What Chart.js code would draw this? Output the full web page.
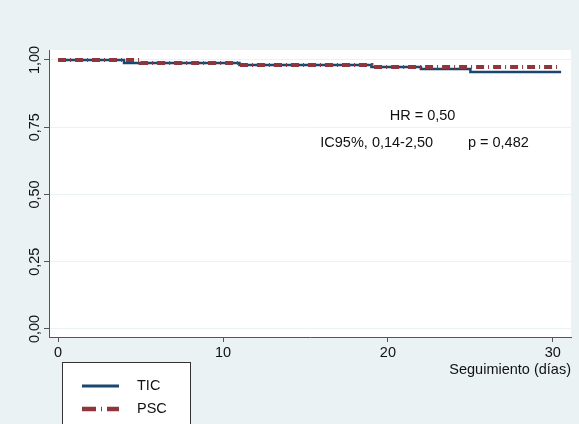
<!DOCTYPE html>
<html>
<head>
<meta charset="utf-8">
<script src="https://cdn.jsdelivr.net/npm/chart.js@4.4.0/dist/chart.umd.min.js"></script>
<style>
    html, body { margin: 0; padding: 0; background: #eaf2f3; }
    #wrap { width: 579px; height: 424px; }
</style>
</head>
<body>
<div id="wrap"><canvas id="myChart" width="579" height="424"></canvas></div>
<script>
// Kaplan-Meier steps
var ticDays = [0, 4, 11, 19, 22, 25, 30.5];
var ticSurv = [1.000, 0.989, 0.981, 0.974, 0.966, 0.955, 0.955];
var pscDays = [0, 5, 11, 19, 30.5];
var pscSurv = [1.000, 0.989, 0.981, 0.974, 0.974];

var xTicks = [0, 10, 20, 30];
var yTicks = [0, 0.25, 0.5, 0.75, 1];
var groups = ["TIC", "PSC"];
var notes = ["HR = 0,50", "IC95%, 0,14-2,50", "p = 0,482"];

var blue = "#1a476f";
var red = "#90353b";
var bg = "#eaf2f3";
var fontFam = "'Liberation Sans', Arial, Helvetica, sans-serif";

Chart.defaults.font.family = fontFam;
Chart.defaults.font.size = 14.5;
Chart.defaults.color = "#111";

function points(xs, ys) {
    var out = [];
    for (var i = 0; i < xs.length; i++) {
        out.push({x: xs[i], y: ys[i]});
    }
    return out;
}

function comma(v, d) {
    return v.toFixed(d).replace(".", ",");
}

var stataPlugin = {
    id: "stata",
    beforeDraw: function (chart) {
        var ctx = chart.ctx, a = chart.chartArea;
        ctx.save();
        ctx.fillStyle = bg;
        ctx.fillRect(0, 0, chart.width, chart.height);
        ctx.fillStyle = "#fff";
        ctx.fillRect(a.left, a.top, a.right - a.left, a.bottom - a.top);
        ctx.restore();
    },
    afterDraw: function (chart) {
        var ctx = chart.ctx;
        var xs = chart.scales.x, ys = chart.scales.y;
        ctx.save();
        ctx.fillStyle = "#111";
        ctx.font = "14.5px " + fontFam;

        // vertical y tick labels
        ctx.textAlign = "center";
        ctx.textBaseline = "alphabetic";
        yTicks.forEach(function (v) {
            ctx.save();
            ctx.translate(38.5, ys.getPixelForValue(v));
            ctx.rotate(-Math.PI / 2);
            ctx.fillText(comma(v, 2), 0, 0);
            ctx.restore();
        });

        // HR / CI / p notes
        ctx.textBaseline = "middle";
        ctx.textAlign = "center";
        ctx.fillText(notes[0], xs.getPixelForValue(22.1), ys.getPixelForValue(0.79));
        ctx.textAlign = "left";
        ctx.fillText(notes[1], xs.getPixelForValue(15.9), ys.getPixelForValue(0.69));
        ctx.fillText(notes[2], xs.getPixelForValue(24.85), ys.getPixelForValue(0.69));

        // legend box
        ctx.fillStyle = "#fff";
        ctx.fillRect(62, 362, 128, 80);
        ctx.strokeStyle = "#333";
        ctx.lineWidth = 1;
        ctx.strokeRect(62.5, 362.5, 128, 80);

        var rows = [386, 409];
        var ds = chart.data.datasets;
        for (var i = 0; i < groups.length; i++) {
            var d = ds.find(function (s) { return s.label === groups[i]; });
            ctx.beginPath();
            ctx.strokeStyle = d.borderColor;
            ctx.lineWidth = d.borderWidth + 0.5;
            ctx.setLineDash(d.label === "PSC" ? [14, 5, 1, 5] : []);
            ctx.moveTo(82, rows[i]);
            ctx.lineTo(119, rows[i]);
            ctx.stroke();
            ctx.setLineDash([]);
            ctx.fillStyle = "#111";
            ctx.fillText(groups[i], 137, rows[i]);
        }
        ctx.restore();
    }
};

new Chart(document.getElementById("myChart"), {
    type: "line",
    data: {
        datasets: [
            {
                label: groups[0],
                data: points(ticDays, ticSurv),
                borderColor: blue,
                borderWidth: 2.5,
                stepped: "before",
                pointRadius: 0,
                fill: false,
                order: 2
            },
            {
                label: groups[1],
                data: points(pscDays, pscSurv),
                borderColor: red,
                borderWidth: 4,
                borderDash: [8, 4, 1, 4],
                stepped: "before",
                pointRadius: 0,
                fill: false,
                order: 1
            }
        ]
    },
    options: {
        responsive: false,
        animation: false,
        layout: { padding: { top: 50, right: 8, left: 0, bottom: 0 } },
        plugins: {
            legend: { display: false },
            tooltip: { enabled: false }
        },
        scales: {
            x: {
                type: "linear",
                min: -0.55,
                max: 31.1,
                afterBuildTicks: function (s) {
                    s.ticks = xTicks.map(function (v) { return {value: v}; });
                },
                afterFit: function (s) { s.height = 87; },
                ticks: {
                    padding: 2,
                    maxRotation: 0,
                    callback: function (v) { return String(v); }
                },
                grid: {
                    drawOnChartArea: false,
                    tickLength: 5,
                    tickColor: "#555"
                },
                border: { color: "#555", width: 1 },
                title: {
                    display: true,
                    text: "Seguimiento (días)",
                    align: "end",
                    padding: { top: 0, bottom: 45 }
                }
            },
            y: {
                type: "linear",
                min: -0.03,
                max: 1.037,
                afterBuildTicks: function (s) {
                    s.ticks = yTicks.map(function (v) { return {value: v}; });
                },
                afterFit: function (s) { s.width = 49; },
                ticks: { display: false },
                grid: {
                    color: bg,
                    tickLength: 5,
                    tickColor: "#555"
                },
                border: { color: "#555", width: 1 }
            }
        }
    },
    plugins: [stataPlugin]
});
</script>
</body>
</html>
